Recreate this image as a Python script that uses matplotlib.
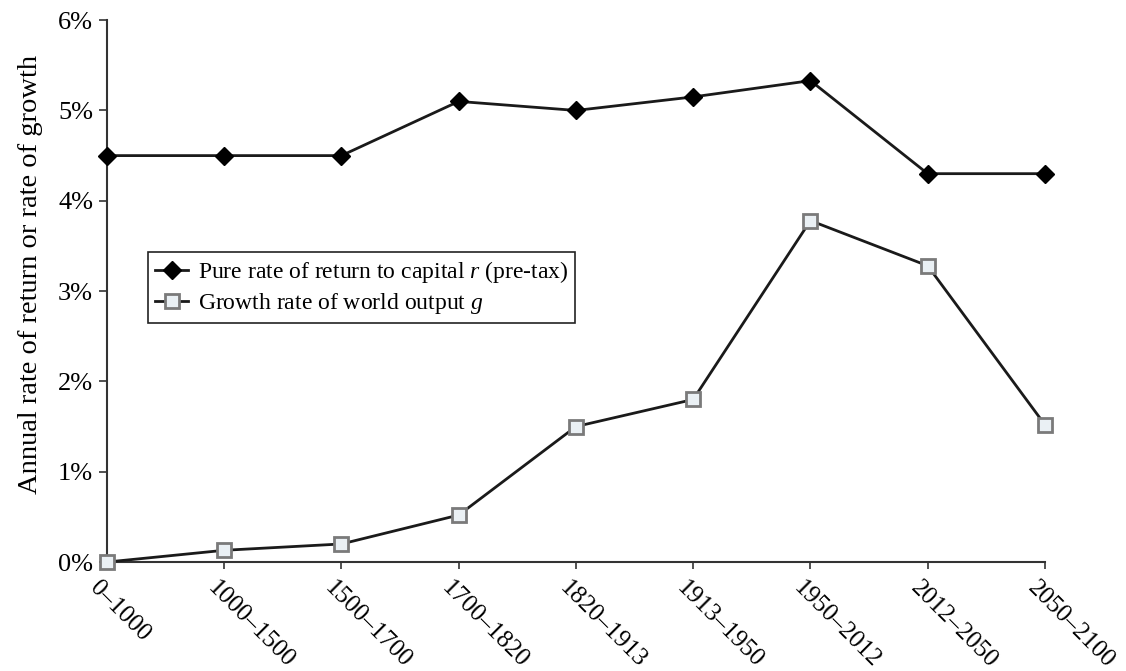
import matplotlib
matplotlib.use("Agg")
import matplotlib.pyplot as plt
from matplotlib.transforms import ScaledTranslation

plt.rcParams['font.family'] = ['Liberation Serif', 'DejaVu Serif']
plt.rcParams['mathtext.fontset'] = 'custom'
plt.rcParams['mathtext.rm'] = 'Liberation Serif'
plt.rcParams['mathtext.it'] = 'Liberation Serif:italic'

periods = ["0\u20131000", "1000\u20131500", "1500\u20131700", "1700\u20131820", "1820\u20131913",
           "1913\u20131950", "1950\u20132012", "2012\u20132050", "2050\u20132100"]
return_r = [4.5, 4.5, 4.5, 5.1, 5.0, 5.15, 5.33, 4.3, 4.3]
growth_g = [0.0, 0.13, 0.2, 0.52, 1.5, 1.8, 3.78, 3.28, 1.52]
y_ticks = [0, 1, 2, 3, 4, 5, 6]

fig = plt.figure(figsize=(11.26, 6.71), dpi=100)
ax = fig.add_axes([0.095, 0.1624, 0.833, 0.8076])

x = list(range(len(periods)))
ax.plot(x, return_r, color='#1a1a1a', lw=2.0, marker='D', markersize=9,
        markerfacecolor='black', markeredgecolor='black', clip_on=False,
        label='Pure rate of return to capital $r$ (pre-tax)', zorder=3)
ax.plot(x, growth_g, color='#1a1a1a', lw=2.0, marker='s', markersize=10,
        markerfacecolor='#eaf0f4', markeredgecolor='#7a7a7a', markeredgewidth=2,
        clip_on=False, label='Growth rate of world output $g$', zorder=3)

ax.set_xlim(0, len(periods) - 1)
ax.set_ylim(0, 6)
ax.set_yticks(y_ticks)
ax.set_yticklabels([f"{t}%" for t in y_ticks], fontsize=19)
ax.set_xticks(x)
ax.set_xticklabels(periods, fontsize=18, rotation=-45, ha='left', rotation_mode='anchor')
ax.tick_params(axis='x', length=5, width=1.2, color='#333333', pad=6)
ax.tick_params(axis='y', length=6, width=1.2, color='#333333', pad=4)

# nudge the slanted period labels a little to the left, as in the original
shift = ScaledTranslation(-4 / 72, 0, fig.dpi_scale_trans)
for lbl in ax.get_xticklabels():
    lbl.set_transform(lbl.get_transform() + shift)

for s in ['top', 'right']:
    ax.spines[s].set_visible(False)
for s in ['left', 'bottom']:
    ax.spines[s].set_color('#333333')
    ax.spines[s].set_linewidth(1.5)

ax.set_ylabel("Annual rate of return or rate of growth", fontsize=20.5)
ax.yaxis.set_label_coords(-0.068, 0.531)

leg = ax.legend(loc='upper left', bbox_to_anchor=(0.044, 0.572), fontsize=17,
                frameon=True, fancybox=False, edgecolor='#222222', framealpha=1,
                handlelength=1.4, handletextpad=0.4, borderpad=0.3, labelspacing=0.25,
                borderaxespad=0)
leg.get_frame().set_linewidth(1.2)

fig.savefig("out.png", dpi=100)
